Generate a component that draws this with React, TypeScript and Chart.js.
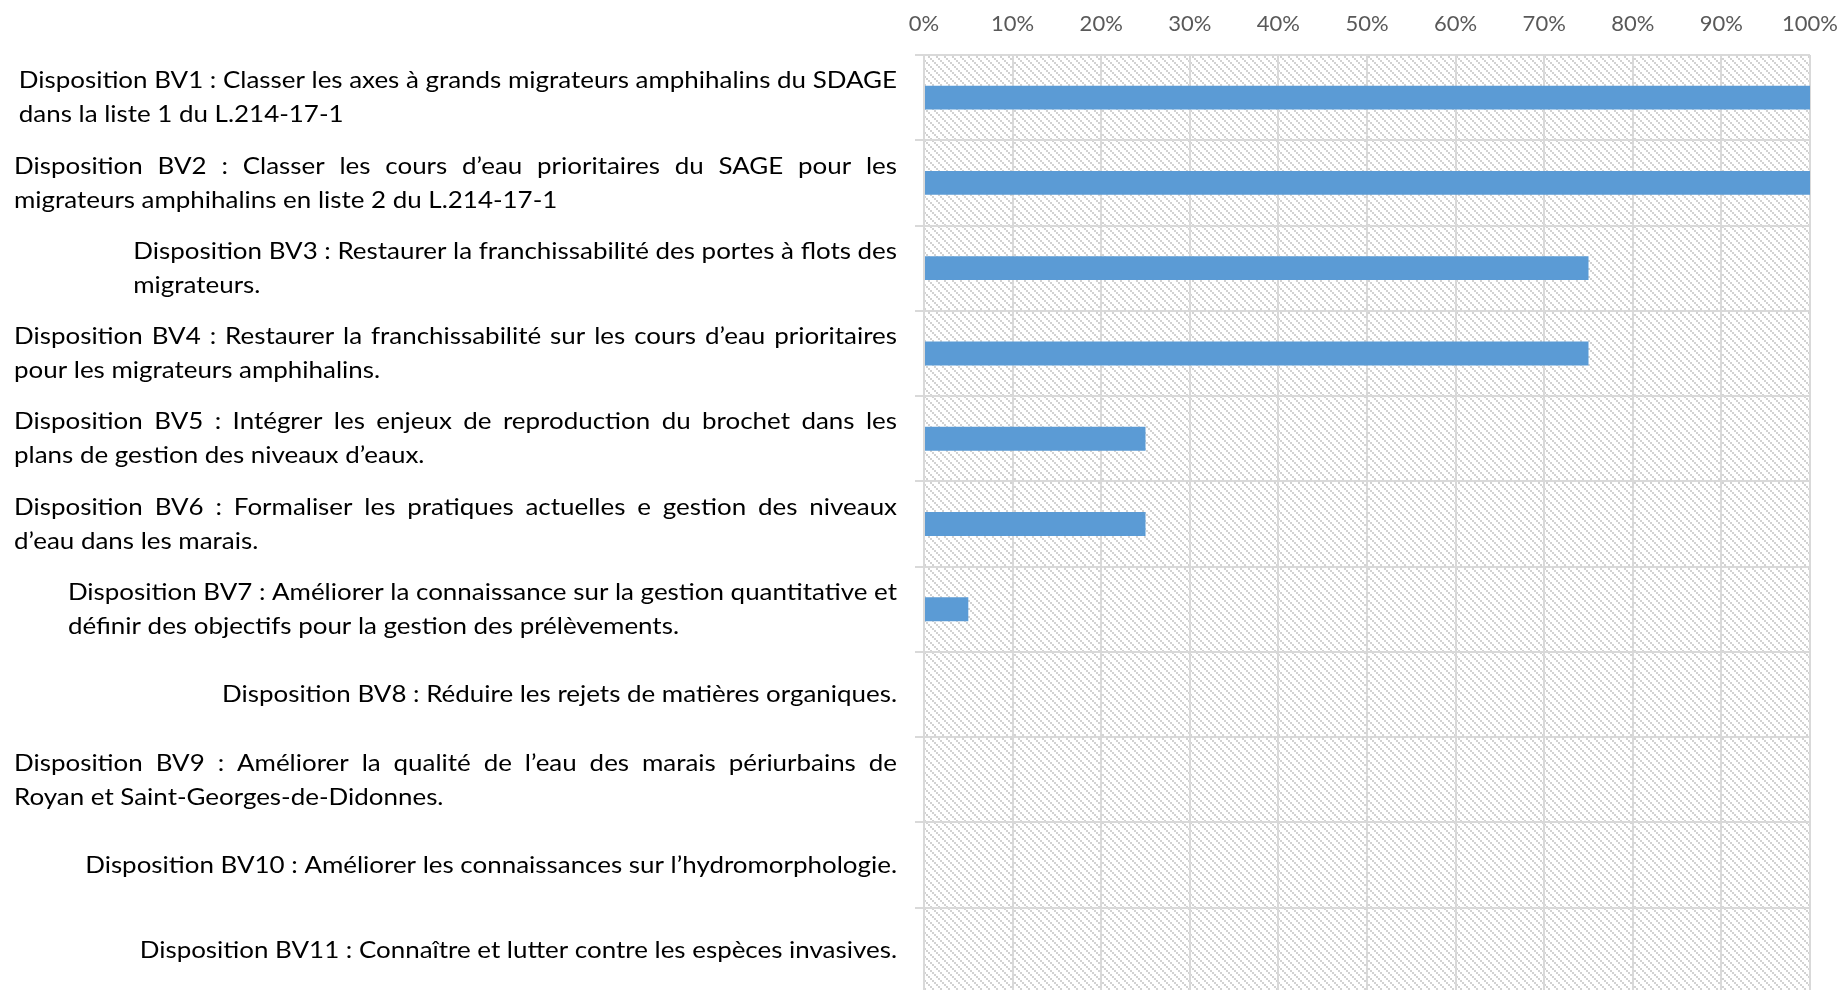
import React, { useEffect, useRef } from "react";
import { Chart, registerables } from "chart.js";
Chart.register(...registerables);

const categories: string[][] = [
  ["Disposition BV1 : Classer les axes à grands migrateurs amphihalins du SDAGE", "dans la liste 1 du L.214-17-1"],
  ["Disposition BV2 : Classer les cours d’eau prioritaires du SAGE pour les", "migrateurs amphihalins en liste 2 du L.214-17-1"],
  ["Disposition BV3 : Restaurer la franchissabilité des portes à flots des", "migrateurs."],
  ["Disposition BV4 : Restaurer la franchissabilité sur les cours d’eau prioritaires", "pour les migrateurs amphihalins."],
  ["Disposition BV5 : Intégrer les enjeux de reproduction du brochet dans les", "plans de gestion des niveaux d’eaux."],
  ["Disposition BV6 : Formaliser les pratiques actuelles e gestion des niveaux", "d’eau dans les marais."],
  ["Disposition BV7 : Améliorer la connaissance sur la gestion quantitative et", "définir des objectifs pour la gestion des prélèvements."],
  ["Disposition BV8 : Réduire les rejets de matières organiques."],
  ["Disposition BV9 : Améliorer la qualité de l’eau des marais périurbains de", "Royan et Saint-Georges-de-Didonnes."],
  ["Disposition BV10 : Améliorer les connaissances sur l’hydromorphologie."],
  ["Disposition BV11 : Connaître et lutter contre les espèces invasives."],
];
const justified: boolean[] = [false, true, false, true, true, true, false, false, true, false, false];
const values: number[] = [100, 100, 75, 75, 25, 25, 5, 0, 0, 0, 0];
const tickValues: number[] = [0, 10, 20, 30, 40, 50, 60, 70, 80, 90, 100];

const W = 1839;
const H = 995;
const FONT = "Lato, 'Open Sans', sans-serif";

export default function App() {
  const ref = useRef<HTMLCanvasElement>(null);
  useEffect(() => {
    const canvas = ref.current!;
    const c2d = canvas.getContext("2d")!;
    const tile = document.createElement("canvas");
    tile.width = 8;
    tile.height = 8;
    const t = tile.getContext("2d")!;
    t.fillStyle = "#ffffff";
    t.fillRect(0, 0, 8, 8);
    t.fillStyle = "#d2d2d2";
    for (let k = 0; k < 4; k++) {
      t.fillRect(2 * k, 2 * k, 2, 2);
    }
    const pattern = c2d.createPattern(tile, "repeat")!;

    const hatch = {
      id: "hatch",
      beforeDraw(chart: any) {
        const { ctx, chartArea: a } = chart;
        ctx.save();
        ctx.fillStyle = pattern;
        ctx.fillRect(a.left, a.top, a.right - a.left, a.bottom - a.top);
        ctx.restore();
      },
    };

    const labels = {
      id: "justLabels",
      afterDraw(chart: any) {
        const ctx: CanvasRenderingContext2D = chart.ctx;
        const ys = chart.scales.y;
        ctx.save();
        ctx.font = `24px ${FONT}`;
        ctx.fillStyle = "#000000";
        ctx.textBaseline = "middle";
        ctx.textAlign = "left";
        const sx = 675 / ctx.measureText(categories[7][0]).width;
        const right = 897;
        const fullW = 883;
        const lh = 34;
        categories.forEach((lines, i) => {
          const cy = ys.getPixelForValue(i);
          const natural = lines.map((l) => ctx.measureText(l).width * sx);
          const blockW = justified[i] ? fullW : Math.max(...natural);
          const x0 = right - blockW;
          lines.forEach((line, j) => {
            const y = cy + (j - (lines.length - 1) / 2) * lh;
            ctx.save();
            ctx.translate(x0, y);
            ctx.scale(sx, 1);
            if (justified[i] && j < lines.length - 1) {
              const words = line.split(" ");
              const wordsW = words.reduce((s, w) => s + ctx.measureText(w).width, 0);
              const gap = (blockW / sx - wordsW) / (words.length - 1);
              let x = 0;
              words.forEach((w) => {
                ctx.fillText(w, x, 0);
                x += ctx.measureText(w).width + gap;
              });
            } else {
              ctx.fillText(line, 0, 0);
            }
            ctx.restore();
          });
        });
        ctx.restore();
      },
    };

    const chart = new Chart(canvas, {
      type: "bar",
      data: {
        labels: categories.map((l) => l.join(" ")),
        datasets: [
          {
            data: values,
            backgroundColor: "#5B9BD5",
            borderWidth: 0,
            barPercentage: 0.28,
            categoryPercentage: 1,
          },
        ],
      },
      options: {
        indexAxis: "y",
        animation: false,
        responsive: false,
        devicePixelRatio: 1,
        layout: { padding: { left: 0, right: 29, top: 0, bottom: 2 } },
        plugins: { legend: { display: false }, tooltip: { enabled: false } },
        scales: {
          x: {
            position: "top",
            min: 0,
            max: 100,
            afterBuildTicks(s: any) {
              s.ticks = tickValues.map((v) => ({ value: v }));
            },
            ticks: {
              callback: (v: any) => v + "%",
              color: "#595959",
              font: { family: FONT, size: 22 },
              padding: 18,
              maxRotation: 0,
            },
            grid: { color: "#d9d9d9", lineWidth: 2, drawTicks: false },
            border: { display: false },
            afterFit(s: any) {
              s.height = 55;
              s.paddingLeft = 0;
              s.paddingRight = 0;
            },
          },
          y: {
            ticks: { display: false },
            grid: { color: "#d9d9d9", lineWidth: 2, tickLength: 9, offset: true },
            border: { color: "#d9d9d9", width: 2 },
            afterFit(s: any) {
              s.width = 924;
            },
          },
        },
      },
      plugins: [hatch, labels],
    } as any);
    return () => chart.destroy();
  }, []);
  return (
    <div style={{ position: "fixed", left: 0, top: 0, width: W, height: H, background: "#fff" }}>
      <canvas ref={ref} width={W} height={H} style={{ display: "block", width: W, height: H }} />
    </div>
  );
}
